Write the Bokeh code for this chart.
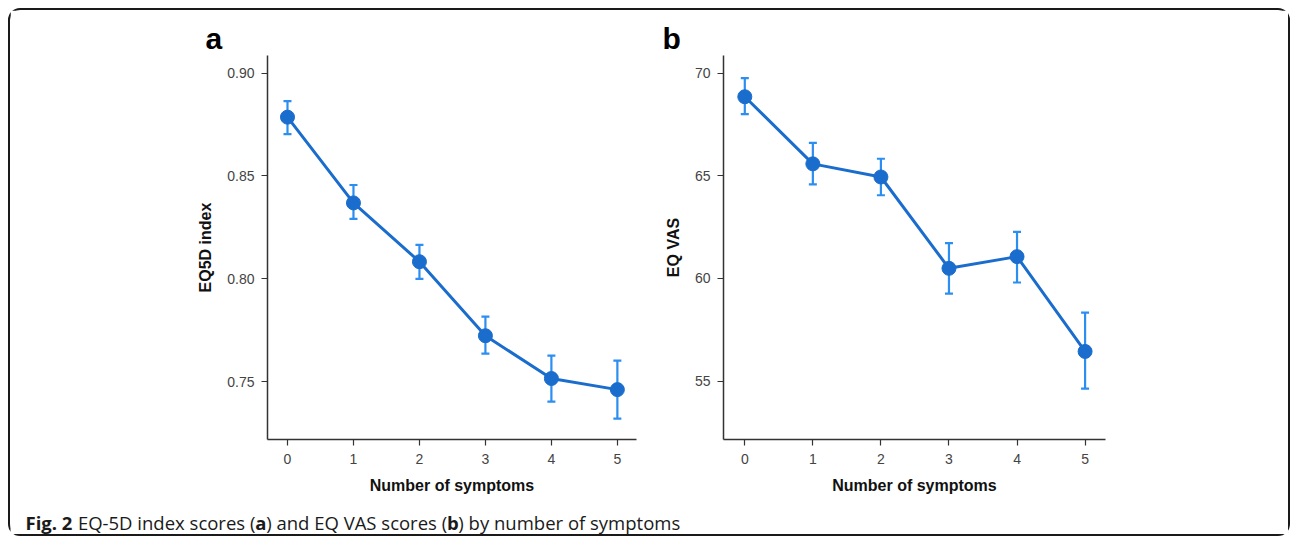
from bokeh.plotting import figure
from bokeh.layouts import column, row
from bokeh.models import ColumnDataSource, Whisker, TeeHead, Label, FixedTicker, NumeralTickFormatter, Range1d
from bokeh.embed import file_html
from bokeh.resources import INLINE

symptoms = [0, 1, 2, 3, 4, 5]
x_ticks = [0, 1, 2, 3, 4, 5]

eq5d_mean = [0.8786, 0.8369, 0.8083, 0.7723, 0.7515, 0.7461]
eq5d_lower = [0.8704, 0.8291, 0.8000, 0.7636, 0.7403, 0.7320]
eq5d_upper = [0.8864, 0.8456, 0.8165, 0.7816, 0.7626, 0.7602]
eq5d_ticks = [0.75, 0.80, 0.85, 0.90]

vas_mean = [68.85, 65.58, 64.94, 60.49, 61.06, 56.44]
vas_lower = [68.00, 64.58, 64.05, 59.26, 59.80, 54.63]
vas_upper = [69.76, 66.60, 65.83, 61.72, 62.27, 58.33]
vas_ticks = [55, 60, 65, 70]

x_label = "Number of symptoms"
y_label_a = "EQ5D index"
y_label_b = "EQ VAS"
caption_parts = [("Fig. 2", "bold"), (" EQ-5D index scores (", "normal"), ("a", "bold"),
                 (") and EQ VAS scores (", "normal"), ("b", "bold"), (") by number of symptoms", "normal")]

LINE = "#1a6dcc"
ERR = "#2b8ef0"
AX = "#333333"
FONT = "Liberation Sans"

# approximate Open Sans advance widths (units per 2048 em)
OS_REG = {" ": 532, "(": 608, ")": 608, "-": 659, ".": 545, "2": 1171, "5": 1171, "A": 1296,
          "D": 1464, "E": 1147, "Q": 1579, "S": 1098, "V": 1214, "a": 1139, "b": 1255, "c": 975,
          "d": 1255, "e": 1149, "f": 694, "g": 1122, "h": 1257, "i": 518, "m": 1905, "n": 1257,
          "o": 1237, "p": 1255, "r": 836, "s": 977, "t": 723, "u": 1257, "x": 1075, "y": 1026}
OS_BOLD = {"F": 1149, "i": 627, "g": 1147, ".": 608, " ": 532, "2": 1208, "a": 1208, "b": 1264}


def text_width(txt, style, size):
    tab = OS_BOLD if style == "bold" else OS_REG
    return sum(tab.get(c, 1150) for c in txt) / 2048.0 * size


def panel(mean, lo, hi, yticks, yfmt, ylabel, letter, yr, xr, w, h, bl, br, bt, bb):
    p = figure(width=w, height=h, x_range=Range1d(*xr), y_range=Range1d(*yr),
               output_backend="svg", toolbar_location=None,
               min_border_left=bl, min_border_right=br, min_border_top=bt, min_border_bottom=bb)
    p.outline_line_color = None
    p.xgrid.visible = False
    p.ygrid.visible = False
    p.title.text = letter[0]
    p.title.text_font = FONT
    p.title.text_font_size = "30px"
    p.title.text_font_style = "bold"
    p.title.text_color = "#000000"
    p.title.align = "left"
    p.title.offset = letter[1]
    p.title.standoff = 2
    src = ColumnDataSource(dict(x=symptoms, m=mean, lo=lo, hi=hi))
    wh = Whisker(base="x", lower="lo", upper="hi", source=src, line_color=ERR, line_width=2.2,
                 upper_head=TeeHead(size=8, line_color=ERR, line_width=2.2),
                 lower_head=TeeHead(size=8, line_color=ERR, line_width=2.2))
    p.add_layout(wh)
    p.line("x", "m", source=src, line_color=LINE, line_width=3)
    p.scatter("x", "m", source=src, size=14, fill_color=LINE, line_color=LINE)
    for ax in (p.xaxis[0], p.yaxis[0]):
        ax.axis_line_color = AX
        ax.axis_line_width = 1.5
        ax.major_tick_line_color = AX
        ax.major_tick_line_width = 1.2
        ax.major_tick_out = 6
        ax.major_tick_in = 0
        ax.minor_tick_line_color = None
        ax.major_label_text_font = FONT
        ax.major_label_text_font_size = "14px"
        ax.major_label_text_color = "#444444"
        ax.axis_label_text_font = FONT
        ax.axis_label_text_font_size = "16px"
        ax.axis_label_text_font_style = "bold"
        ax.axis_label_text_color = "#111111"
    p.xaxis.ticker = FixedTicker(ticks=x_ticks)
    p.yaxis.ticker = FixedTicker(ticks=yticks)
    p.yaxis.formatter = NumeralTickFormatter(format=yfmt)
    p.xaxis.axis_label = x_label
    p.yaxis.axis_label = ylabel
    p.xaxis.major_label_standoff = 8
    p.yaxis.major_label_standoff = 7
    p.xaxis.axis_label_standoff = 10
    p.yaxis.axis_label_standoff = 10
    return p


pa = panel(eq5d_mean, eq5d_lower, eq5d_upper, eq5d_ticks, "0.00", y_label_a, ("a", -62),
           (0.72184, 0.90859), (-0.303, 5.29), 640, 486, 257, 14, 45, 56)
pb = panel(vas_mean, vas_lower, vas_upper, vas_ticks, "0", y_label_b, ("b", -61),
           (52.15, 70.86), (-0.313, 5.30), 638, 486, 73, 183, 45, 56)

pc = figure(width=1278, height=38, x_range=Range1d(0, 1278), y_range=Range1d(0, 38),
            output_backend="svg", toolbar_location=None,
            min_border_left=0, min_border_right=0, min_border_top=0, min_border_bottom=0)
pc.axis.visible = False
pc.grid.visible = False
pc.outline_line_color = None
CAP_FONT = "Open Sans"
CAP_SIZE = 18.5
xpos = 15.0
for txt, style in caption_parts:
    stripped = txt.lstrip(" ")
    xpos += text_width(txt[:len(txt) - len(stripped)], style, CAP_SIZE)
    pc.add_layout(Label(x=xpos, y=12, x_units="screen", y_units="screen", text=stripped,
                        text_font=CAP_FONT, text_font_size=f"{CAP_SIZE}px",
                        text_font_style=style, text_color="#1a1a1a", text_baseline="alphabetic"))
    xpos += text_width(stripped, style, CAP_SIZE)

layout = column(row(pa, pb), pc,
                styles={"border": "2px solid #1a1a1a", "border-radius": "12px",
                        "margin-left": "8px", "margin-top": "8px"})
open("out.html", "w").write(file_html(layout, INLINE))
